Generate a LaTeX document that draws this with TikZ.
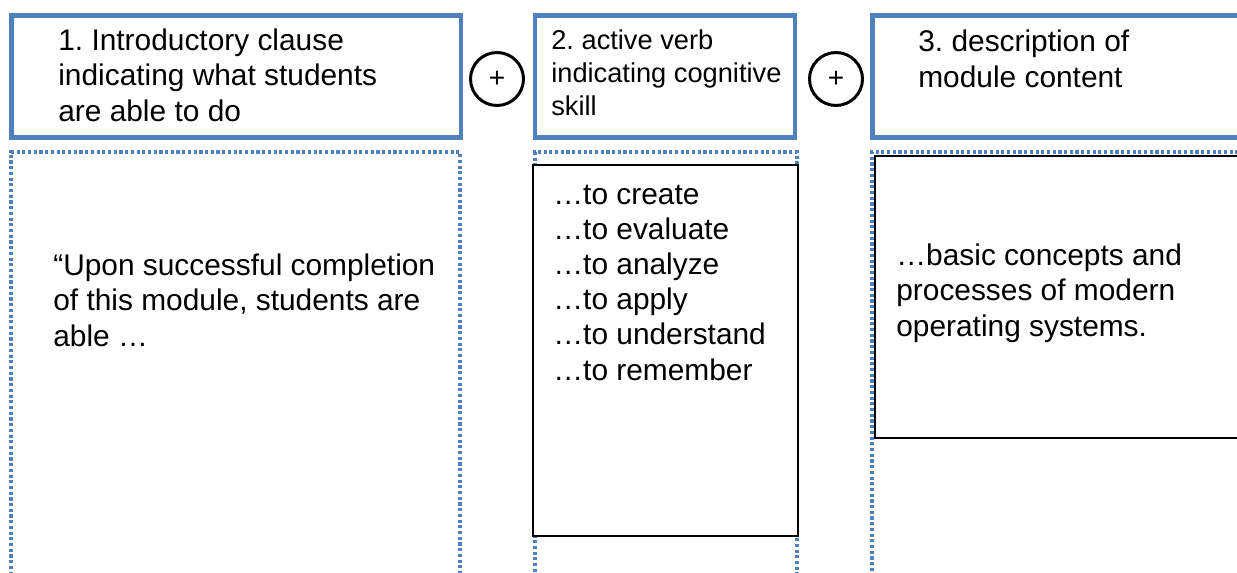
\documentclass[tikz,border=0pt]{standalone}
\usepackage{fontspec}
\setmainfont{Liberation Sans}
\usetikzlibrary{positioning}
\definecolor{frameblue}{RGB}{79,129,189}
\frenchspacing

\begin{document}
\begin{tikzpicture}[
    x=0.02cm, y=-0.02cm,
    headbox/.style={rectangle, draw=frameblue, line width=2.8pt, minimum height=2.44cm},
    colframe/.style={rectangle, draw=frameblue, line width=1.9pt, dash pattern=on 1.8pt off 1.45pt, minimum height=9.4cm},
    blkbox/.style={rectangle, draw=black, fill=white, line width=1pt},
    joinplus/.style={circle, draw, line width=1.7pt, minimum size=1.06cm, inner sep=0pt, font=\fontsize{16}{19}\selectfont},
    txt/.style={anchor=base west, align=left, inner sep=0pt, font=\fontsize{17}{20}\selectfont}
]
    \useasboundingbox (0,0) rectangle (1237,572);
    \clip (0,0) rectangle (1237,572);

    % ---- header boxes ----
    \node[headbox, minimum width=9cm] (introBox) at (236,76.5) {};
    \node[headbox, minimum width=5.2cm] (verbBox) at (665,76.5) {};
    \node[headbox, minimum width=8.96cm] (contentBox) at (1096,76.5) {};
    \node[joinplus] (plusA) at (497,79) {\raisebox{-2pt}{+}};
    \node[joinplus] (plusB) at (836,79) {\raisebox{-2pt}{+}};

    % ---- dotted columns ----
    \node[colframe, minimum width=8.98cm] (introCol) at (235.5,387) {};
    \node[colframe, minimum width=5.24cm] (verbCol) at (666,387) {};
    \node[colframe, minimum width=8.96cm] (contentCol) at (1096,387) {};

    % ---- solid inner boxes ----
    \node[blkbox, minimum width=5.3cm, minimum height=7.42cm] (verbInner) at (665.5,350.5) {};
    \node[blkbox, minimum width=8.9cm, minimum height=5.64cm] (contentInner) at (1097.5,297) {};

    % ---- texts (anchored at the last line) ----
    \node[txt] (introHead) at (58,121) {1. Introductory clause\\indicating what students\\are able to do};
    \node[txt, font=\fontsize{15.5}{18.5}\selectfont] (verbHead) at (551,115) {2. active verb\\indicating cognitive\\skill};
    \node[txt] (contentHead) at (918,87) {3. description of\\module content};
    \node[txt] (introText) at (53,346) {“Upon successful completion\\of this module, students are\\able …};
    \node[txt] (verbList) at (553,380) {…to create\\…to evaluate\\…to analyze\\…to apply\\…to understand\\…to remember};
    \node[txt] (contentText) at (896,336) {…basic concepts and\\processes of modern\\operating systems.};
\end{tikzpicture}
\end{document}
